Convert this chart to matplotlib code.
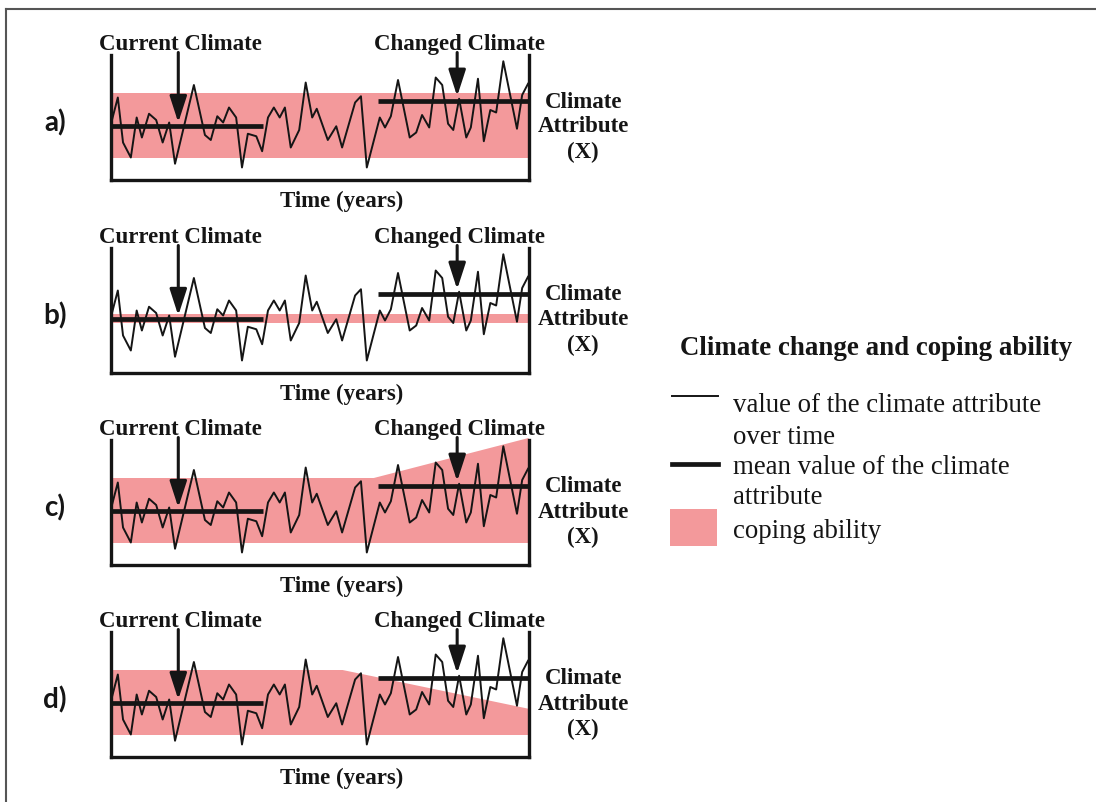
import matplotlib
matplotlib.use('Agg')
from matplotlib import pyplot as plt
from matplotlib.lines import Line2D
from matplotlib.patches import Rectangle

plt.rcParams['font.family'] = ['Liberation Serif', 'DejaVu Serif']

# climate attribute series (same in every panel), time in years
years = [0, 0.9, 1.7, 2.9, 3.8, 4.6, 5.7, 6.8, 7.8, 8.8,
         9.7, 12.6, 14.3, 15.2, 16.2, 17.1, 18.0, 19.1, 20.0, 20.9,
         22.2, 23.1, 24.0, 24.9, 25.8, 26.6, 27.5, 28.8, 29.8, 30.8,
         31.5, 33.2, 34.5, 35.4, 37.4, 38.3, 39.2, 41.2, 42.0, 42.9,
         44.0, 45.8, 46.8, 47.7, 48.8, 49.8, 50.8, 51.7, 52.5, 53.4,
         54.5, 55.2, 56.3, 57.2, 58.2, 59.1, 60.2, 62.3, 63.1, 64.0]
values = [4.8, 6.6, 3.0, 1.8, 5.0, 3.4, 5.3, 4.8, 3.0, 4.6,
          1.3, 7.6, 3.6, 3.2, 5.1, 4.6, 5.8, 5.0, 1.0, 3.7,
          3.5, 2.3, 5.0, 5.8, 5.0, 5.8, 2.6, 4.0, 7.8, 5.0,
          5.7, 3.2, 4.3, 2.6, 6.2, 6.7, 1.0, 5.0, 4.2, 5.1,
          8.0, 3.4, 3.8, 5.2, 4.2, 8.2, 7.6, 4.5, 4.0, 6.5,
          3.4, 4.2, 8.1, 3.1, 5.6, 5.4, 9.5, 4.1, 6.8, 7.7]

current_mean = 4.3
current_span = [0, 23.2]
changed_mean = 6.3
changed_span = [40.9, 64]
current_arrow_x, current_arrow_tip = 10.2, 4.6
changed_arrow_x, changed_arrow_tip = 53.1, 6.7

# coping ability band per panel
panel_labels = ['a)', 'b)', 'c)', 'd)']
band_years = [[0, 64], [0, 64], [0, 40.2, 64], [0, 35.4, 64]]
band_low = [[1.8, 1.8], [4.0, 4.0], [1.8, 1.8, 1.8], [1.8, 1.8, 1.8]]
band_high = [[7.0, 7.0], [4.7, 4.7], [7.0, 7.0, 10.2], [7.0, 7.0, 3.9]]

PINK = '#F3999B'
INK = '#151515'
W, H = 1096, 802

fig = plt.figure(figsize=(W / 100, H / 100), dpi=100)


def fx(px):
    return px / W


def fy(py):
    return 1 - py / H


offsets = [0, 193, 385, 577]
for i, off in enumerate(offsets):
    ax = fig.add_axes([fx(111), fy(180 + off), fx(529) - fx(111), (180 - 55) / H])
    ax.set_xlim(-0.15, 64.15)
    ax.set_ylim(0, 10)
    ax.set_xticks([])
    ax.set_yticks([])
    ax.patch.set_alpha(0)
    ax.spines['top'].set_visible(False)
    for s in ['left', 'right', 'bottom']:
        ax.spines[s].set_linewidth(2.4)
        ax.spines[s].set_color(INK)
        ax.spines[s].set_capstyle('projecting')

    ax.fill_between(band_years[i], band_low[i], band_high[i], color=PINK,
                    lw=0, zorder=1, clip_on=False)
    ax.plot(years, values, color=INK, lw=1.4, zorder=2)
    ax.plot(current_span, [current_mean] * 2, color=INK, lw=3.4, zorder=3,
            solid_capstyle='butt')
    ax.plot(changed_span, [changed_mean] * 2, color=INK, lw=3.4, zorder=3,
            solid_capstyle='butt')

    for x, tip in [(current_arrow_x, current_arrow_tip), (changed_arrow_x, changed_arrow_tip)]:
        ax.annotate('', xy=(x, tip), xytext=(x, 10.2), annotation_clip=False,
                    arrowprops=dict(arrowstyle='-|>,head_width=0.26,head_length=0.8',
                                    mutation_scale=20, lw=2.2, color=INK,
                                    shrinkA=0, shrinkB=0), zorder=4)

    ax.text(10.6, 10.85, 'Current Climate', ha='center', va='center',
            fontsize=16.5, fontweight='bold', color=INK, clip_on=False)
    ax.text(53.5, 10.85, 'Changed Climate', ha='center', va='center',
            fontsize=16.5, fontweight='bold', color=INK, clip_on=False)
    ax.text(35.4, -1.72, 'Time (years)', ha='center', va='center',
            fontsize=16.5, fontweight='bold', color=INK, clip_on=False)
    for y, line in zip([6.24, 4.24, 2.24], ['Climate', 'Attribute', '(X)']):
        ax.text(72.5, y, line, ha='center', va='center', fontsize=16.5,
                fontweight='bold', color=INK, clip_on=False)
    ax.text(-8.8, 4.55, panel_labels[i], ha='center', va='center',
            fontsize=20, fontweight='bold', color=INK, family='Lato',
            clip_on=False)

# legend drawn by hand so the handles sit on the first text line
fig.text(fx(876), fy(348), 'Climate change and coping ability', ha='center',
         va='center', fontsize=19.4, fontweight='bold', color=INK)
fig.add_artist(Line2D([fx(672), fx(718)], [fy(396), fy(396)], color=INK, lw=1.4))
fig.add_artist(Line2D([fx(672), fx(718)], [fy(464), fy(464)], color=INK, lw=3.4))
fig.add_artist(Rectangle((fx(670), fy(546)), fx(717) - fx(670), fy(509) - fy(546),
                         color=PINK, lw=0))
legend_rows = [(406, 'value of the climate attribute'), (437, 'over time'),
               (467, 'mean value of the climate'), (498, 'attribute'),
               (531, 'coping ability')]
for py, txt in legend_rows:
    fig.text(fx(733), fy(py), txt, ha='left', va='center', fontsize=19.4, color=INK)

# frame of the original figure (left and top edges)
fig.add_artist(Line2D([fx(6), fx(6)], [fy(9), 0], color='#555555', lw=1.5))
fig.add_artist(Line2D([fx(6), 1], [fy(9), fy(9)], color='#555555', lw=1.5))

fig.savefig('out.png', dpi=100)
